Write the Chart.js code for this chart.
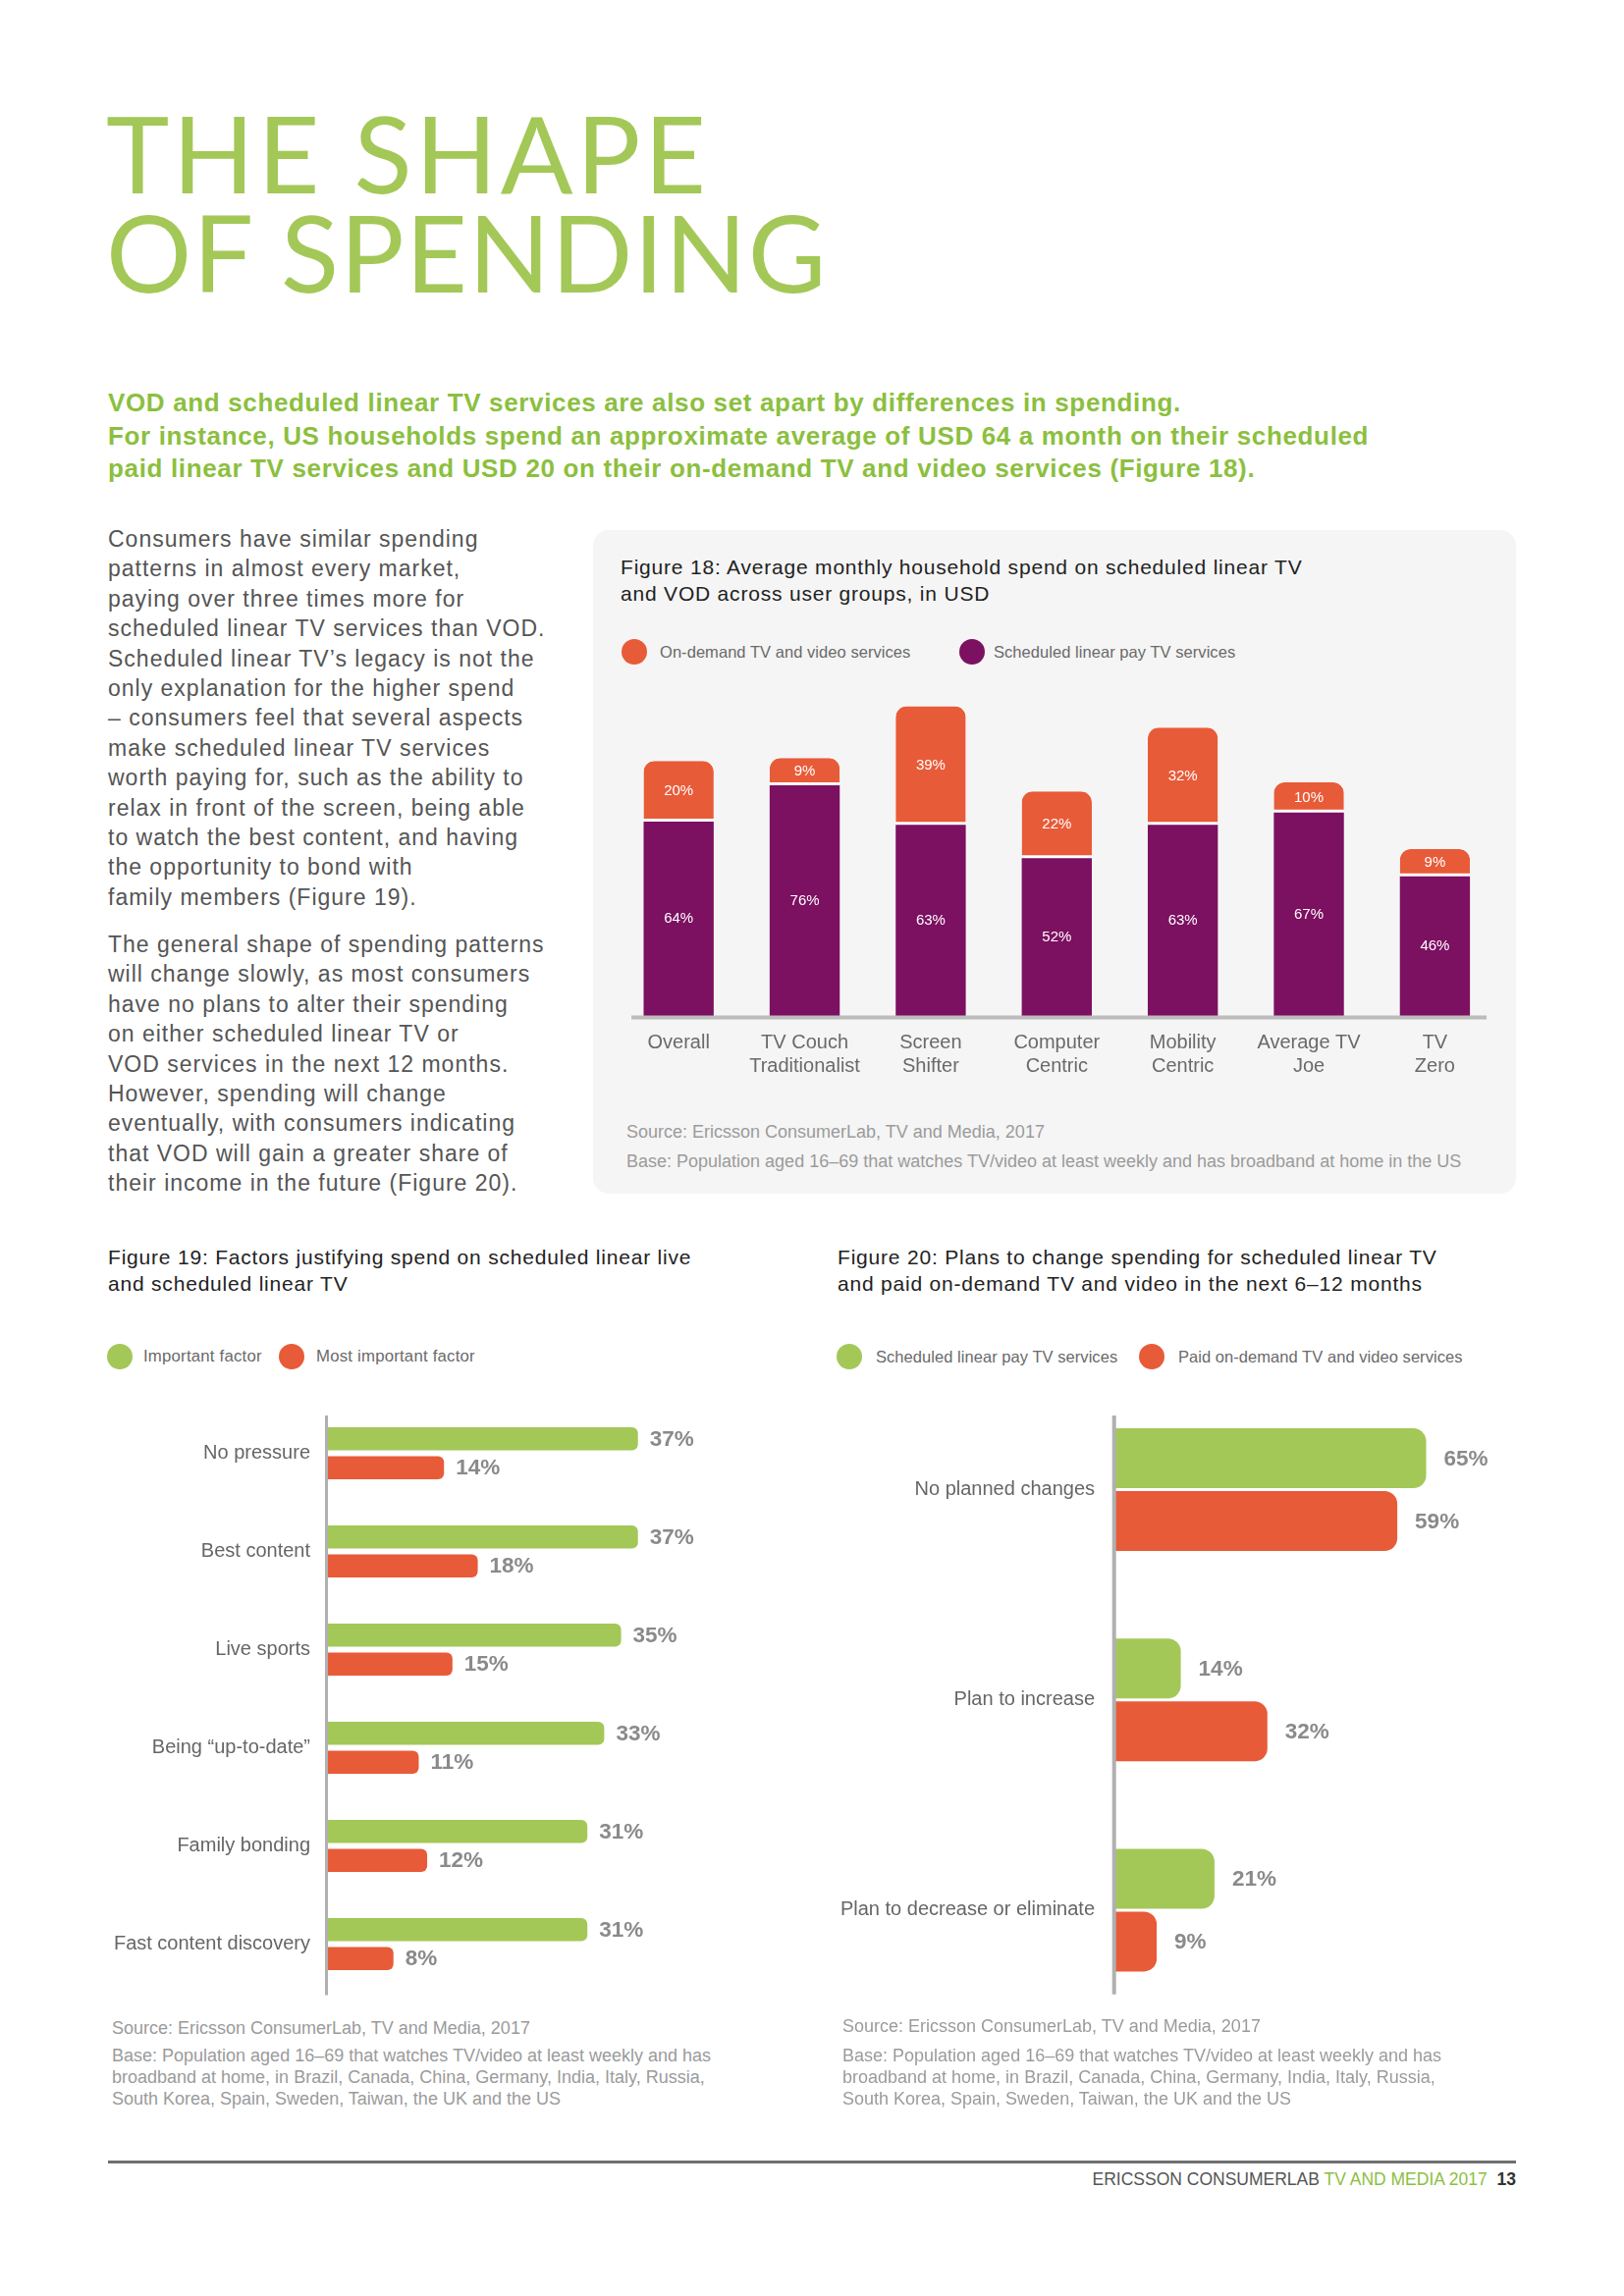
<!DOCTYPE html>
<html>
<head>
<meta charset="utf-8">
<script src="https://cdn.jsdelivr.net/npm/chart.js@4.4.0/dist/chart.umd.min.js"></script>
<style>
  html, body { margin: 0; padding: 0; background: #ffffff; }
  #page { position: relative; width: 1654px; height: 2339px; overflow: hidden; font-family: 'Liberation Sans', Arial, sans-serif; }
  .abs { position: absolute; white-space: nowrap; }
  .title { font-family: 'Lato', sans-serif; font-weight: 400; font-size: 109px; line-height: 101px; color: #a3c857; left: 108px; top: 104px; }
  .lead { font-weight: bold; font-size: 26px; line-height: 33.5px; color: #8cbf3f; left: 110px; top: 394px; letter-spacing: 0.65px; }
  .body { font-size: 23px; line-height: 30.4px; color: #555555; left: 110px; letter-spacing: 1px; }
  .panel { left: 604px; top: 540px; width: 940px; height: 676px; background: #f5f5f5; border-radius: 16px; }
  .ftitle { font-size: 21px; line-height: 27px; color: #222222; letter-spacing: 0.8px; }
  .leg { font-size: 16.5px; line-height: 26px; color: #6a6a6a; letter-spacing: 0.05px; }
  .dot { position: absolute; width: 26px; height: 26px; border-radius: 50%; }
  .src { font-size: 18px; line-height: 22px; color: #9b9b9b; }
  canvas { position: absolute; }
  .rule { left: 110px; top: 2201px; width: 1434px; height: 3px; background: #707070; }
  .foot { font-size: 17.5px; line-height: 20px; right: 110px; top: 2210px; color: #555; }
</style>
</head>
<body>
<div id="page">
  <div class="abs title"><span style="letter-spacing:3.5px">THE SHAPE</span><br><span style="letter-spacing:1.2px">OF SPENDING</span></div>

  <div class="abs lead">VOD and scheduled linear TV services are also set apart by differences in spending.<br>For instance, US households spend an approximate average of USD 64 a month on their scheduled<br>paid linear TV services and USD 20 on their on-demand TV and video services (Figure 18).</div>

  <div class="abs body" style="top:534px">Consumers have similar spending<br>patterns in almost every market,<br>paying over three times more for<br>scheduled linear TV services than VOD.<br>Scheduled linear TV’s legacy is not the<br>only explanation for the higher spend<br>– consumers feel that several aspects<br>make scheduled linear TV services<br>worth paying for, such as the ability to<br>relax in front of the screen, being able<br>to watch the best content, and having<br>the opportunity to bond with<br>family members (Figure 19).</div>
  <div class="abs body" style="top:947px">The general shape of spending patterns<br>will change slowly, as most consumers<br>have no plans to alter their spending<br>on either scheduled linear TV or<br>VOD services in the next 12 months.<br>However, spending will change<br>eventually, with consumers indicating<br>that VOD will gain a greater share of<br>their income in the future (Figure 20).</div>

  <div class="abs panel"></div>
  <div class="abs ftitle" style="left:632px; top:564px">Figure 18: Average monthly household spend on scheduled linear TV<br>and VOD across user groups, in USD</div>
  <div class="dot" style="left:633px; top:651px; background:#e85b38"></div>
  <div class="abs leg" style="left:672px; top:651px">On-demand TV and video services</div>
  <div class="dot" style="left:977px; top:651px; background:#7c1061"></div>
  <div class="abs leg" style="left:1012px; top:651px">Scheduled linear pay TV services</div>
  <canvas id="fig18" width="940" height="445" style="left:604px; top:680px"></canvas>
  <div class="abs src" style="left:638px; top:1142px">Source: Ericsson ConsumerLab, TV and Media, 2017</div>
  <div class="abs src" style="left:638px; top:1172px">Base: Population aged 16–69 that watches TV/video at least weekly and has broadband at home in the US</div>

  <div class="abs ftitle" style="left:110px; top:1267px">Figure 19: Factors justifying spend on scheduled linear live<br>and scheduled linear TV</div>
  <div class="dot" style="left:109px; top:1369px; background:#a3c857"></div>
  <div class="abs leg" style="left:146px; top:1369px; font-size:16.8px; letter-spacing:0.2px">Important factor</div>
  <div class="dot" style="left:284px; top:1369px; background:#e85b38"></div>
  <div class="abs leg" style="left:322px; top:1369px; font-size:16.8px; letter-spacing:0.2px">Most important factor</div>
  <canvas id="fig19" width="650" height="620" style="left:105px; top:1420px"></canvas>
  <div class="abs src" style="left:114px; top:2055px">Source: Ericsson ConsumerLab, TV and Media, 2017</div>
  <div class="abs src" style="left:114px; top:2083px">Base: Population aged 16–69 that watches TV/video at least weekly and has<br>broadband at home, in Brazil, Canada, China, Germany, India, Italy, Russia,<br>South Korea, Spain, Sweden, Taiwan, the UK and the US</div>

  <div class="abs ftitle" style="left:853px; top:1267px">Figure 20: Plans to change spending for scheduled linear TV<br>and paid on-demand TV and video in the next 6–12 months</div>
  <div class="dot" style="left:852px; top:1369px; background:#a3c857"></div>
  <div class="abs leg" style="left:892px; top:1369px">Scheduled linear pay TV services</div>
  <div class="dot" style="left:1160px; top:1369px; background:#e85b38"></div>
  <div class="abs leg" style="left:1200px; top:1369px">Paid on-demand TV and video services</div>
  <canvas id="fig20" width="700" height="660" style="left:857px; top:1400px"></canvas>
  <div class="abs src" style="left:858px; top:2053px">Source: Ericsson ConsumerLab, TV and Media, 2017</div>
  <div class="abs src" style="left:858px; top:2083px">Base: Population aged 16–69 that watches TV/video at least weekly and has<br>broadband at home, in Brazil, Canada, China, Germany, India, Italy, Russia,<br>South Korea, Spain, Sweden, Taiwan, the UK and the US</div>

  <div class="abs rule"></div>
  <div class="abs foot">ERICSSON CONSUMERLAB <span style="color:#8cbf3f">TV AND MEDIA 2017</span>&nbsp;&nbsp;<b style="color:#333">13</b></div>
</div>

<script>
// ---------- DATA ----------
const fig18Categories = ["Overall", ["TV Couch", "Traditionalist"], ["Screen", "Shifter"], ["Computer", "Centric"], ["Mobility", "Centric"], ["Average TV", "Joe"], ["TV", "Zero"]];
const fig18Scheduled = [64, 76, 63, 52, 63, 67, 46];
const fig18OnDemand = [20, 9, 39, 22, 32, 10, 9];

const fig19Categories = ["No pressure", "Best content", "Live sports", "Being “up-to-date”", "Family bonding", "Fast content discovery"];
const fig19Important = [37, 37, 35, 33, 31, 31];
const fig19MostImportant = [14, 18, 15, 11, 12, 8];

const fig20Categories = ["No planned changes", "Plan to increase", "Plan to decrease or eliminate"];
const fig20Linear = [65, 14, 21];
const fig20OnDemand = [59, 32, 9];

// ---------- STYLE ----------
const GREEN = '#a3c857', ORANGE = '#e85b38', PURPLE = '#7c1061';
Chart.defaults.font.family = "'Liberation Sans', Arial, sans-serif";
Chart.defaults.animation = false;

// axis line drawn along the category axis, extent relative to category step
const axisLine = {
  id: 'axisLine',
  afterDatasetsDraw(chart, args, o) {
    const cat = chart.scales[o.catAxis];
    const n = cat.getLabels().length;
    const p0 = cat.getPixelForValue(0), pn = cat.getPixelForValue(n - 1);
    const step = (pn - p0) / (n - 1);
    const a = p0 - step * o.before, b = pn + step * o.after;
    const ctx = chart.ctx, ca = chart.chartArea;
    ctx.save();
    ctx.strokeStyle = o.color; ctx.lineWidth = o.width; ctx.lineCap = 'butt';
    ctx.beginPath();
    if (o.catAxis === 'x') {
      const y = ca.bottom + o.shift;
      ctx.moveTo(a, y); ctx.lineTo(b, y);
    } else {
      const x = ca.left + o.shift;
      ctx.moveTo(x, a); ctx.lineTo(x, b);
    }
    ctx.stroke();
    ctx.restore();
  }
};

// value labels
const valueLabels = {
  id: 'valueLabels',
  afterDatasetsDraw(chart, args, o) {
    const ctx = chart.ctx;
    ctx.save();
    ctx.font = o.font;
    ctx.fillStyle = o.color;
    chart.data.datasets.forEach((ds, di) => {
      const meta = chart.getDatasetMeta(di);
      meta.data.forEach((el, i) => {
        const p = el.getProps(['x', 'y', 'base'], true);
        const txt = ds.data[i] + '%';
        if (o.mode === 'inside') {
          ctx.textAlign = 'center'; ctx.textBaseline = 'middle';
          ctx.fillText(txt, p.x, (p.y + p.base) / 2);
        } else {
          ctx.textAlign = 'left'; ctx.textBaseline = 'middle';
          ctx.fillText(txt, p.x + o.offset, p.y + 1);
        }
      });
    });
    ctx.restore();
  }
};

const fixedWidth = w => s => { s.width = w; s.paddingTop = 0; s.paddingBottom = 0; };

// ---------- FIGURE 18 ----------
new Chart(document.getElementById('fig18'), {
  type: 'bar',
  data: {
    labels: fig18Categories,
    datasets: [
      { label: 'Scheduled linear pay TV services', data: fig18Scheduled, backgroundColor: PURPLE, borderWidth: 0 },
      { label: 'On-demand TV and video services', data: fig18OnDemand, backgroundColor: ORANGE,
        borderColor: '#ffffff', borderWidth: { top: 0, left: 0, right: 0, bottom: 3 }, borderSkipped: false,
        borderRadius: { topLeft: 11, topRight: 11, bottomLeft: 0, bottomRight: 0 } }
    ]
  },
  options: {
    responsive: false,
    layout: { padding: { left: 23, right: 18.4, top: 19.5, bottom: 0 } },
    datasets: { bar: { categoryPercentage: 1, barPercentage: 0.556 } },
    scales: {
      x: { stacked: true, grid: { display: false, drawTicks: false }, border: { display: false },
           ticks: { color: '#6a6a6a', font: { size: 20, lineHeight: 1.2 }, padding: 15, maxRotation: 0, autoSkip: false },
           afterFit: s => { s.height = 90; s.paddingLeft = 0; s.paddingRight = 0; } },
      y: { stacked: true, display: false, min: 0, max: 108.5 }
    },
    plugins: {
      legend: { display: false }, tooltip: { enabled: false },
      axisLine: { catAxis: 'x', before: 0.375, after: 0.41, color: '#bcbcbc', width: 4, shift: 1.5 },
      valueLabels: { mode: 'inside', font: "15px 'Liberation Sans', Arial, sans-serif", color: '#ffffff' }
    }
  },
  plugins: [axisLine, valueLabels]
});

// ---------- FIGURE 19 ----------
new Chart(document.getElementById('fig19'), {
  type: 'bar',
  data: {
    labels: fig19Categories,
    datasets: [
      { label: 'Important factor', data: fig19Important, backgroundColor: GREEN },
      { label: 'Most important factor', data: fig19MostImportant, backgroundColor: ORANGE }
    ]
  },
  options: {
    responsive: false,
    indexAxis: 'y',
    layout: { padding: { left: 0, right: 6.5, top: 10.5, bottom: 9.5 } },
    datasets: { bar: { categoryPercentage: 0.59, barPercentage: 0.8, borderSkipped: 'start',
                       borderRadius: { topLeft: 0, bottomLeft: 0, topRight: 6, bottomRight: 6 } } },
    scales: {
      x: { display: false, min: 0, max: 48.5 },
      y: { grid: { display: false, drawTicks: false }, border: { display: false },
           ticks: { color: '#666666', font: { size: 20 }, padding: 16, autoSkip: false },
           afterFit: fixedWidth(227) }
    },
    plugins: {
      legend: { display: false }, tooltip: { enabled: false },
      axisLine: { catAxis: 'y', before: 0.385, after: 0.52, color: '#b0b0b0', width: 3, shift: 0.5 },
      valueLabels: { mode: 'outside', offset: 12, font: "bold 22.5px 'Liberation Sans', Arial, sans-serif", color: '#8a8a8a' }
    }
  },
  plugins: [axisLine, valueLabels]
});

// ---------- FIGURE 20 ----------
new Chart(document.getElementById('fig20'), {
  type: 'bar',
  data: {
    labels: fig20Categories,
    datasets: [
      { label: 'Scheduled linear pay TV services', data: fig20Linear, backgroundColor: GREEN },
      { label: 'Paid on-demand TV and video services', data: fig20OnDemand, backgroundColor: ORANGE }
    ]
  },
  options: {
    responsive: false,
    indexAxis: 'y',
    layout: { padding: { left: 0, right: 6.5, top: 10.4, bottom: 6.9 } },
    datasets: { bar: { categoryPercentage: 0.597, barPercentage: 0.953, borderSkipped: 'start',
                       borderRadius: { topLeft: 0, bottomLeft: 0, topRight: 13, bottomRight: 13 } } },
    scales: {
      x: { display: false, min: 0, max: 85 },
      y: { grid: { display: false, drawTicks: false }, border: { display: false },
           ticks: { color: '#666666', font: { size: 20 }, padding: 19, autoSkip: false },
           afterFit: fixedWidth(277) }
    },
    plugins: {
      legend: { display: false }, tooltip: { enabled: false },
      axisLine: { catAxis: 'y', before: 0.352, after: 0.40, color: '#b0b0b0', width: 4, shift: 0.7 },
      valueLabels: { mode: 'outside', offset: 18, font: "bold 22.5px 'Liberation Sans', Arial, sans-serif", color: '#8a8a8a' }
    }
  },
  plugins: [axisLine, valueLabels]
});
</script>
</body>
</html>
